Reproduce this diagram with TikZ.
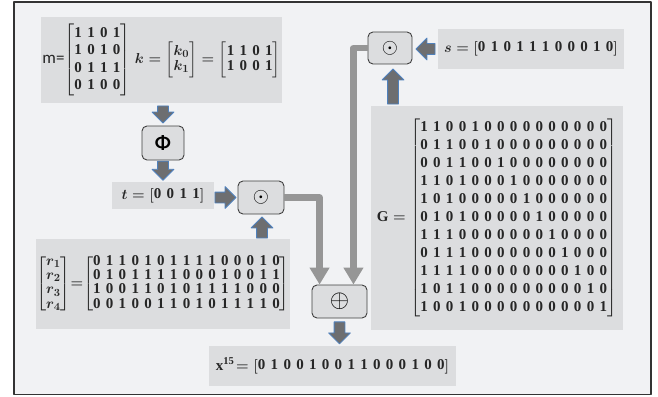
\documentclass[tikz,border=0pt]{standalone}
\usepackage{amsmath,amssymb}
\usepackage{bm}
\usepackage{fontspec}
\setmainfont{Liberation Serif}
\setsansfont{Carlito}
\usepackage{tikz}
\usetikzlibrary{calc,arrows.meta,shapes.arrows}

\definecolor{framebg}{HTML}{F1F2F4}
\definecolor{boxfill}{HTML}{DCDDDF}
\definecolor{opedge}{HTML}{404040}
\definecolor{arrowfill}{HTML}{6D6E70}
\definecolor{arrowedge}{HTML}{4F81BD}
\definecolor{linkgray}{HTML}{969696}

% one row of bits, bold, evenly spaced
\newcommand\bits[1]{\text{\bfseries\spaceskip=5.3pt\relax #1}}

\begin{document}
\begin{tikzpicture}[x=1pt, y=-1pt, line join=round,
    box/.style={fill=boxfill, inner sep=0pt, text=black!85, font=\boldmath\fontsize{15}{15}\selectfont},
    opbox/.style={fill=boxfill, draw=opedge, line width=0.9pt, rounded corners=5pt, inner sep=0pt},
    barrow/.style={single arrow, fill=arrowfill, draw=arrowedge, line width=0.8pt, inner xsep=0pt, inner ysep=5pt,
        minimum width=21pt, single arrow head extend=5.5pt},
    link/.style={draw=linkgray, line width=6.5pt, -{Triangle[width=19pt,length=17pt]}}]
    \useasboundingbox (0,0) rectangle (658,396);
    \draw[fill=framebg, draw=black!80, line width=1.2pt] (14,2) rectangle (651,394.5);

    % boxes
    \node[box, minimum width=241pt, minimum height=86pt] (mk) at (161.5,60)
        {{\fontsize{17}{17}\selectfont\sffamily m=}${\renewcommand\arraystretch{1.17}\begin{bmatrix}\bits{1 1 0 1}\\\bits{1 0 1 0}\\\bits{0 1 1 1}\\\bits{0 1 0 0}\end{bmatrix}}\;
         {\renewcommand\arraystretch{1.0}k = \begin{bmatrix}k_0\\k_1\end{bmatrix} = \begin{bmatrix}\bits{1 1 0 1}\\\bits{1 0 0 1}\end{bmatrix}}$};
    \node[opbox, minimum width=42pt, minimum height=34pt, font=\sffamily\bfseries\fontsize{20}{20}\selectfont] (phi) at (163,143) {Φ};
    \node[box, minimum width=102pt, minimum height=27pt] (t) at (163,195.5)
        {$t = \begin{bmatrix}\bits{0 0 1 1}\end{bmatrix}$};
    \node[opbox, minimum width=46pt, minimum height=33pt, font=\fontsize{21}{21}\selectfont] (dotA) at (261,197.5) {$\odot$};
    \node[box, minimum width=254pt, minimum height=90pt] (r) at (163,284)
        {$\renewcommand\arraystretch{0.95}\begin{bmatrix}r_1\\r_2\\r_3\\r_4\end{bmatrix}\mkern-3mu{=}\mkern-3mu\begin{bmatrix}
        \bits{0 1 1 0 1 0 1 1 1 1 0 0 0 1 0}\\
        \bits{0 1 0 1 1 1 1 0 0 0 1 0 0 1 1}\\
        \bits{1 0 0 1 1 0 1 0 1 1 1 1 0 0 0}\\
        \bits{0 0 1 0 0 1 1 0 1 0 1 1 1 1 0}\end{bmatrix}$};
    \node[opbox, minimum width=55pt, minimum height=33pt, font=\fontsize{24}{24}\selectfont] (plus) at (339.5,301.5) {$\oplus$};
    \node[box, minimum width=247pt, minimum height=40pt] (x) at (332.5,366)
        {$\bits{x}^{\bits{15}}\!= \begin{bmatrix}\bits{0 1 0 0 1 0 0 1 1 0 0 0 1 0 0}\end{bmatrix}$};
    \node[opbox, minimum width=44pt, minimum height=32pt, font=\fontsize{21}{21}\selectfont] (dotB) at (390,48) {$\odot$};
    \node[box, minimum width=186pt, minimum height=40pt] (s) at (531,49)
        {$s = \begin{bmatrix}\bits{0 1 0 1 1 1 0 0 0 1 0}\end{bmatrix}$};
    \node[box, minimum width=252pt, minimum height=224pt] (G) at (497,218)
        {$\renewcommand\arraystretch{1.2}\bits{G} = \begin{bmatrix}
        \bits{1 1 0 0 1 0 0 0 0 0 0 0 0 0 0}\\
        \bits{0 1 1 0 0 1 0 0 0 0 0 0 0 0 0}\\
        \bits{0 0 1 1 0 0 1 0 0 0 0 0 0 0 0}\\
        \bits{1 1 0 1 0 0 0 1 0 0 0 0 0 0 0}\\
        \bits{1 0 1 0 0 0 0 0 1 0 0 0 0 0 0}\\
        \bits{0 1 0 1 0 0 0 0 0 1 0 0 0 0 0}\\
        \bits{1 1 1 0 0 0 0 0 0 0 1 0 0 0 0}\\
        \bits{0 1 1 1 0 0 0 0 0 0 0 1 0 0 0}\\
        \bits{1 1 1 1 0 0 0 0 0 0 0 0 1 0 0}\\
        \bits{1 0 1 1 0 0 0 0 0 0 0 0 0 1 0}\\
        \bits{1 0 0 1 0 0 0 0 0 0 0 0 0 0 1}\end{bmatrix}$};

    % block arrows
    \node[barrow, rotate=-90, minimum height=17pt, anchor=tip] at ($(phi.north)+(0,-2)$) {};
    \node[barrow, rotate=-90, minimum height=19pt, anchor=tip] at ($(t.north)+(0,-1)$) {};
    \node[barrow, minimum height=21pt, anchor=tip] at ($(dotA.west)+(-1,0)$) {};
    \node[barrow, rotate=90, minimum height=21pt, anchor=tip] at ($(dotA.south)+(1,2)$) {};
    \node[barrow, rotate=-90, minimum height=22pt, anchor=tail] at ($(plus.south)+(0,3)$) {};
    \node[barrow, rotate=90, minimum height=35pt, anchor=tip] at ($(dotB.south)+(3,4)$) {};
    \node[barrow, rotate=180, minimum height=19pt, anchor=tip] at ($(dotB.east)+(3,1)$) {};

    % links into the sum
    \draw[link] (dotA.east) -| ([xshift=8pt]plus.north west);
    \draw[link] (dotB.west) -| ([xshift=-14pt]plus.north east);
\end{tikzpicture}
\end{document}
